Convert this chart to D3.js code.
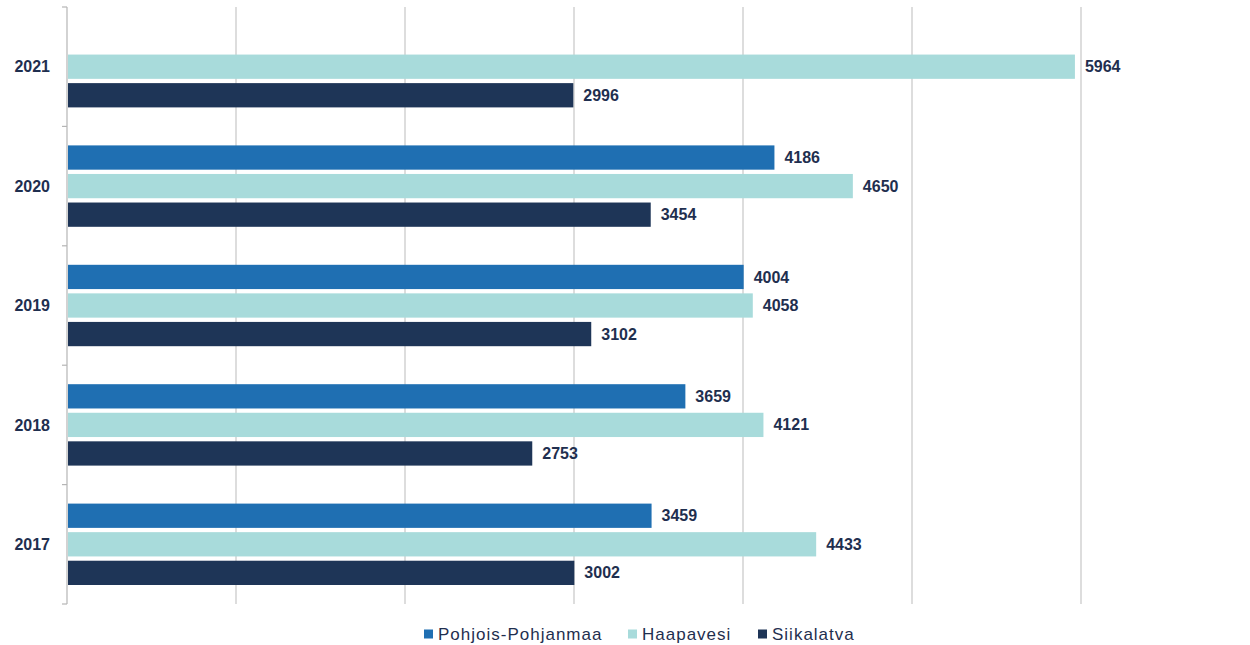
<!DOCTYPE html>
<html>
<head>
<meta charset="utf-8">
<script src="https://cdn.jsdelivr.net/npm/d3@7"></script>
<style>
  body { margin: 0; background: #fff; }
  svg { font-family: "Liberation Sans", Arial, sans-serif; }
</style>
</head>
<body>
<div id="chart"></div>
<script>
// Data (null = no bar)
const years = ['2021', '2020', '2019', '2018', '2017']
const seriesNames = ['Pohjois-Pohjanmaa', 'Haapavesi', 'Siikalatva']
const pohjoisPohjanmaa = [null, 4186, 4004, 3659, 3459]
const haapavesi = [5964, 4650, 4058, 4121, 4433]
const siikalatva = [2996, 3454, 3102, 2753, 3002]
const xTicks = [0, 1000, 2000, 3000, 4000, 5000, 6000]
const colors = ['#1f6fb2', '#a8dbdb', '#1e3557']

const seriesValues = [pohjoisPohjanmaa, haapavesi, siikalatva]
const rows = years.map((y, i) => ({
    year: y,
    values: seriesNames.map((s, j) => ({ key: s, value: seriesValues[j][i] }))
}))

const width = 1250, height = 645
const margin = { top: 7, left: 67, right: 169, bottom: 41 }

const svg = d3.select('#chart').append('svg')
    .attr('width', width)
    .attr('height', height)

const x = d3.scaleLinear().domain([0, 6000]).range([margin.left, width - margin.right])
const y = d3.scaleBand().domain(years).range([margin.top, height - margin.bottom])
const inner = d3.scaleBand().domain(seriesNames)
    .range([19, y.bandwidth() - 19]).paddingInner(0.15)

// gridlines
svg.append('g')
    .selectAll('line')
    .data(xTicks.slice(1))
    .enter().append('line')
        .attr('x1', d => x(d)).attr('x2', d => x(d))
        .attr('y1', margin.top).attr('y2', height - margin.bottom)
        .attr('stroke', '#c6c6c6')
        .attr('stroke-width', 1.2)

// y axis with outward ticks at band edges
const yAxis = svg.append('g')
yAxis.append('line')
    .attr('x1', x(0)).attr('x2', x(0))
    .attr('y1', margin.top).attr('y2', height - margin.bottom)
    .attr('stroke', '#b5b5b5').attr('stroke-width', 1.2)
const edges = years.map(d => y(d)).concat([y.range()[1]])
yAxis.selectAll('.tick')
    .data(edges)
    .enter().append('line')
        .attr('x1', x(0) - 5).attr('x2', x(0))
        .attr('y1', d => d).attr('y2', d => d)
        .attr('stroke', '#b5b5b5').attr('stroke-width', 1.2)
yAxis.selectAll('.yl')
    .data(years)
    .enter().append('text')
        .attr('x', 50)
        .attr('y', d => y(d) + y.bandwidth() / 2)
        .attr('dy', '0.35em')
        .attr('text-anchor', 'end')
        .attr('font-size', 16)
        .attr('font-weight', 'bold')
        .attr('fill', '#1f2f4f')
        .text(d => d)

// bars
const groups = svg.selectAll('.year')
    .data(rows)
    .enter().append('g')
        .attr('class', 'year')
        .attr('transform', d => `translate(0, ${y(d.year)})`)

groups.selectAll('rect')
    .data(d => d.values.filter(v => v.value !== null))
    .enter().append('rect')
        .attr('x', x(0) + 1)
        .attr('y', d => inner(d.key))
        .attr('width', d => x(d.value) - x(0) - 1)
        .attr('height', inner.bandwidth())
        .attr('fill', d => colors[seriesNames.indexOf(d.key)])

groups.selectAll('text')
    .data(d => d.values.filter(v => v.value !== null))
    .enter().append('text')
        .attr('x', d => x(d.value) + 10)
        .attr('y', d => inner(d.key) + inner.bandwidth() / 2)
        .attr('dy', '0.35em')
        .attr('font-size', 16)
        .attr('font-weight', 'bold')
        .attr('fill', '#1f2f4f')
        .text(d => d.value)

// legend
const legendX = [424, 628, 758]
const legend = svg.selectAll('.legend')
    .data(seriesNames)
    .enter().append('g')
        .attr('class', 'legend')
        .attr('transform', (d, i) => `translate(${legendX[i]}, 634)`)
legend.append('rect')
    .attr('x', 0).attr('y', -4.5)
    .attr('width', 9).attr('height', 9)
    .attr('fill', (d, i) => colors[i])
legend.append('text')
    .attr('x', 14)
    .attr('dy', '0.35em')
    .attr('font-size', 17)
    .attr('letter-spacing', 1)
    .attr('fill', '#1f2f4f')
    .text(d => d)
</script>
</body>
</html>
